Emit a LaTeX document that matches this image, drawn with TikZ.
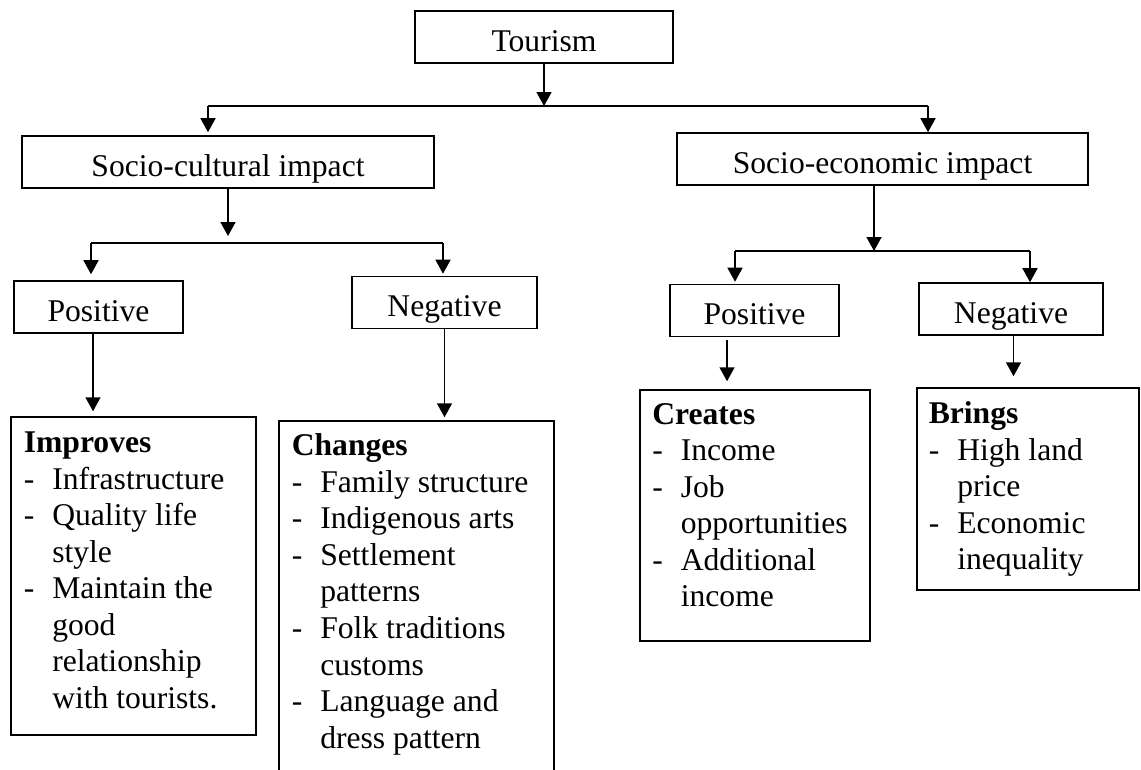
\documentclass[tikz,border=0pt]{standalone}
\usepackage{fontspec}
\setmainfont{Liberation Serif}
\usepackage{tikz}
\usetikzlibrary{arrows.meta}
\newcommand{\dashitem}{\makebox[0.57cm][l]{-}}
\newcommand{\dashcont}{\hspace*{0.57cm}}

\begin{document}
\begin{tikzpicture}[x=0.02cm, y=-0.02cm, line width=0.9pt, >={Triangle[width=0.3cm,length=0.28cm]},
    every node/.style={font=\fontsize{18}{20.8}\selectfont},
    box/.style={draw, rectangle, inner sep=0pt, text height=0.8cm, text depth=0.24cm},
    listbox/.style={draw, rectangle, inner sep=0pt},
    listtext/.style={align=left, inner sep=0pt, anchor=north west}]
        \useasboundingbox (0,0) rectangle (1141,769);

        % header boxes
        \node [box, minimum width=5.16cm] (tourism) at (544,37) {Tourism};
        \node [box, minimum width=8.24cm] (sociocult) at (228,162) {Socio-cultural impact};
        \node [box, minimum width=8.22cm] (socioecon) at (882.5,159) {Socio-economic impact};
        \node [box, minimum width=3.38cm] (cultpos) at (98.5,307) {Positive};
        \node [box, minimum width=3.7cm] (cultneg) at (444.5,302.5) {Negative};
        \node [box, minimum width=3.38cm] (econpos) at (754.5,310.5) {Positive};
        \node [box, minimum width=3.68cm] (econneg) at (1011,309) {Negative};

        % list boxes
        \node [listbox, minimum width=4.9cm, minimum height=6.36cm] (improves) at (133.5,576) {};
        \node [listbox, minimum width=5.5cm, minimum height=7.58cm] (changes) at (416.5,610.5) {};
        \node [listbox, minimum width=4.6cm, minimum height=5.02cm] (creates) at (755,515.5) {};
        \node [listbox, minimum width=4.44cm, minimum height=4.04cm] (brings) at (1028,489) {};

        \node [listtext] (improves-list) at (23,431) {\textbf{Improves}\\
            \dashitem Infrastructure\\
            \dashitem Quality life\\
            \dashcont style\\
            \dashitem Maintain the\\
            \dashcont good\\
            \dashcont relationship\\
            \dashcont with tourists.};
        \node [listtext] (changes-list) at (291,433) {\textbf{Changes}\\
            \dashitem Family structure\\
            \dashitem Indigenous arts\\
            \dashitem Settlement\\
            \dashcont patterns\\
            \dashitem Folk traditions\\
            \dashcont customs\\
            \dashitem Language and\\
            \dashcont dress pattern};
        \node [listtext] (creates-list) at (651.5,402.5) {\textbf{Creates}\\
            \dashitem Income\\
            \dashitem Job\\
            \dashcont opportunities\\
            \dashitem Additional\\
            \dashcont income};
        \node [listtext] (brings-list) at (928,401) {\textbf{Brings}\\
            \dashitem High land\\
            \dashcont price\\
            \dashitem Economic\\
            \dashcont inequality};

        % branch points
        \coordinate (t-left) at (208,106);
        \coordinate (t-right) at (928,106);
        \coordinate (c-left) at (91,243);
        \coordinate (c-right) at (443,243);
        \coordinate (e-mid) at (874,251);
        \coordinate (e-left) at (735,251);
        \coordinate (e-right) at (1030,251);

        % tourism -> impacts
        \draw [->] (tourism) -- (tourism |- t-left);
        \draw (t-left) -- (t-right);
        \draw [->, shorten >=0.06cm] (t-left) -- (t-left |- sociocult.north);
        \draw [->] (t-right) -- (t-right |- socioecon.north);

        % socio-cultural -> positive / negative
        \draw [->, shorten >=0.14cm] (sociocult) -- (sociocult |- c-left);
        \draw (c-left) -- (c-right);
        \draw [->, shorten >=0.12cm] (c-left) -- (c-left |- cultpos.north);
        \draw [->, shorten >=0.04cm] (c-right) -- (c-right |- cultneg.north);

        % socio-economic -> positive / negative
        \draw [->] (socioecon.south -| e-mid) -- (e-mid);
        \draw (e-left) -- (e-right);
        \draw [->, shorten >=0.04cm] (e-left) -- (e-left |- econpos.north);
        \draw [->] (e-right) -- (e-right |- econneg.north);

        % positive / negative -> lists
        \draw [->, shorten >=0.1cm] ([xshift=-0.11cm]cultpos.south) -- ([xshift=-0.11cm]cultpos.south |- improves.north);
        \draw [->, shorten >=0.06cm] (cultneg.south) -- (cultneg.south |- changes.north);
        \draw [->, shorten <=0.06cm, shorten >=0.16cm] ([xshift=-0.55cm]econpos.south) -- ([xshift=-0.55cm]econpos.south |- creates.north);
        \draw [->, shorten >=0.22cm] ([xshift=0.05cm]econneg.south) -- ([xshift=0.05cm]econneg.south |- brings.north);
    \end{tikzpicture}
\end{document}
